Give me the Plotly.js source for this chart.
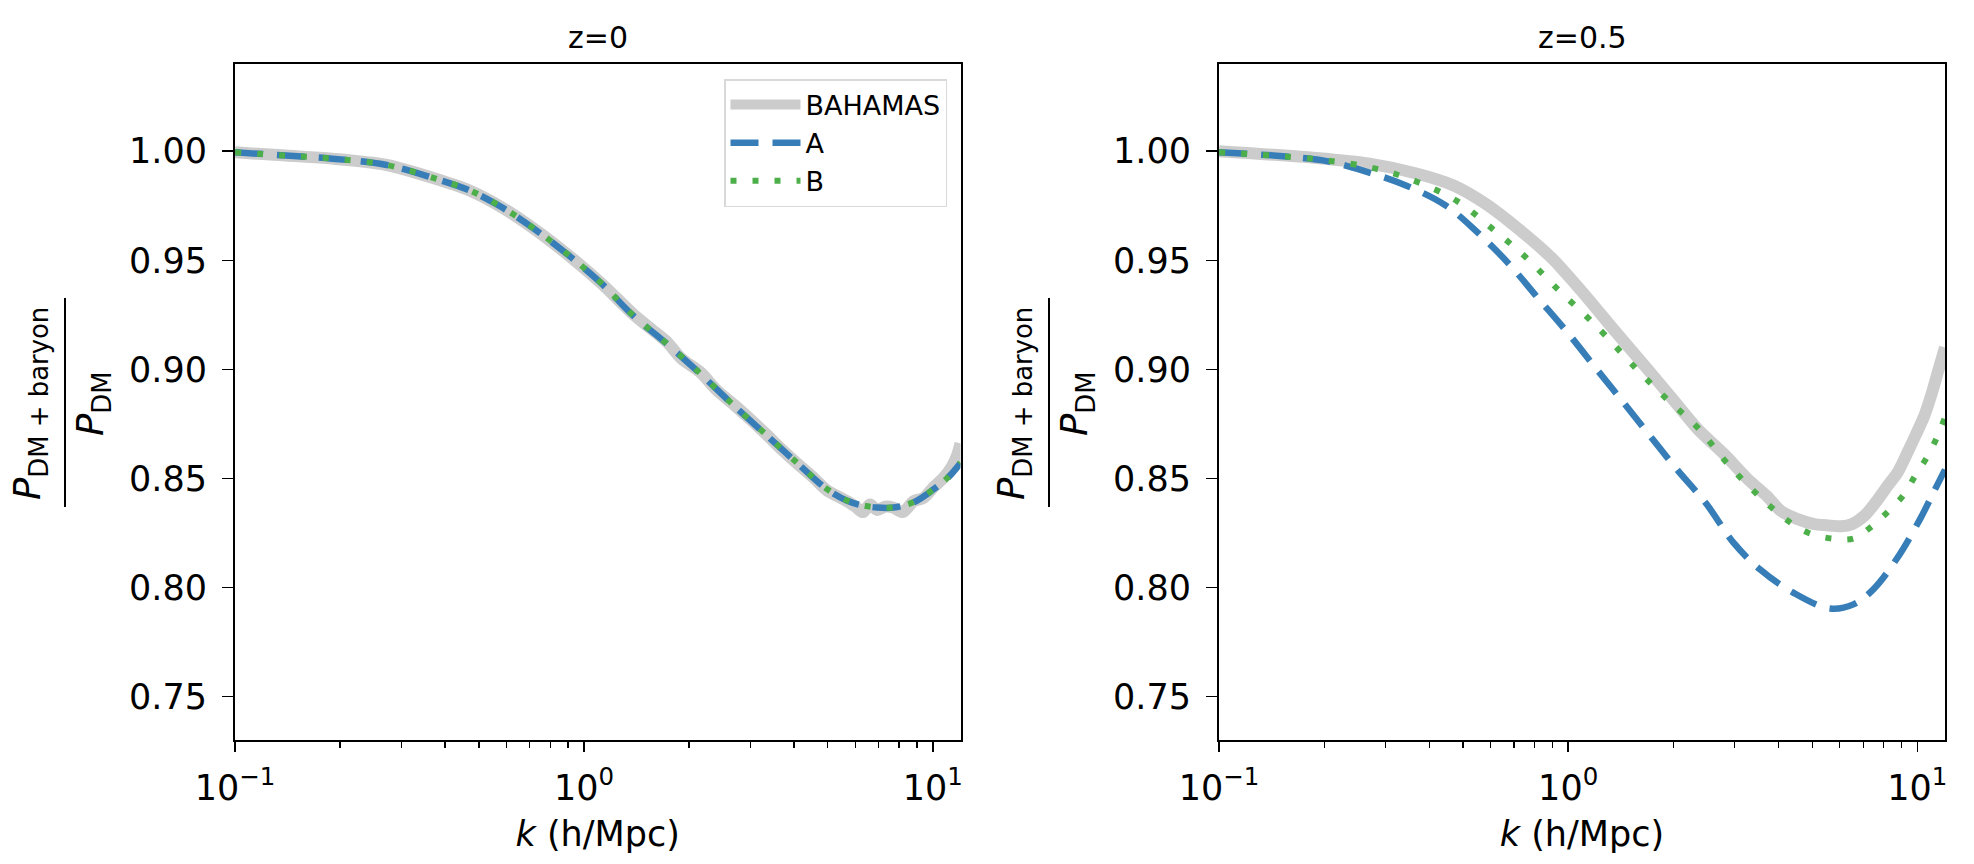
<!DOCTYPE html>
<html>
<head>
<meta charset="utf-8">
<script src="https://cdn.plot.ly/plotly-3.0.1.min.js"></script>
<style>
  html, body { margin: 0; padding: 0; background: #ffffff; }
  #chart { width: 1974px; height: 864px; }
</style>
</head>
<body>
<div id="chart"></div>
<script>
// ---------- data ----------
const panelTitles = ["z=0", "z=0.5"];
const seriesNames = ["BAHAMAS", "A", "B"];

// z = 0 panel
const kBahamasZ0 = [0.1, 0.14, 0.19, 0.27, 0.37, 0.47, 0.58, 0.72, 0.9, 1.12, 1.38, 1.6, 1.73, 1.9, 2.16, 2.4, 2.69, 3.0, 3.35, 3.7, 4.17, 4.5, 4.97, 5.3, 5.68, 6.0, 6.3, 6.6, 6.92, 7.3, 7.72, 8.2, 8.81, 9.4, 10.06, 10.7, 11.3, 11.7, 12.0];
const bahamasZ0 = [0.9995, 0.998, 0.9966, 0.9938, 0.9877, 0.982, 0.9744, 0.9644, 0.9525, 0.9395, 0.9255, 0.917, 0.9125, 0.905, 0.8985, 0.8905, 0.8838, 0.877, 0.8698, 0.863, 0.8555, 0.851, 0.8445, 0.842, 0.8395, 0.837, 0.8345, 0.838, 0.8355, 0.837, 0.8365, 0.8345, 0.8395, 0.841, 0.846, 0.850, 0.855, 0.860, 0.866];
const kModelZ0 = [0.1, 0.14, 0.19, 0.27, 0.37, 0.47, 0.58, 0.72, 0.9, 1.12, 1.38, 1.73, 2.16, 2.69, 3.35, 4.17, 4.97, 5.68, 6.3, 6.92, 7.72, 8.81, 10.06, 11.0, 12.0];
const modelAZ0 = [0.9995, 0.998, 0.9966, 0.9938, 0.9877, 0.982, 0.9744, 0.9644, 0.9525, 0.9395, 0.9248, 0.9116, 0.8978, 0.8833, 0.8695, 0.8557, 0.845, 0.8397, 0.8375, 0.8366, 0.8366, 0.839, 0.845, 0.850, 0.857];
const modelBZ0 = [0.9995, 0.998, 0.9966, 0.9938, 0.9878, 0.9821, 0.9745, 0.9645, 0.9526, 0.9396, 0.9249, 0.9117, 0.8979, 0.8834, 0.8696, 0.8558, 0.8451, 0.8398, 0.8376, 0.8367, 0.8367, 0.8391, 0.8451, 0.8502, 0.8572];

// z = 0.5 panel
const kBahamasZ05 = [0.1, 0.19, 0.27, 0.37, 0.47, 0.58, 0.72, 0.9, 1.12, 1.37, 1.69, 2.0, 2.35, 2.8, 3.27, 3.7, 4.07, 4.5, 5.07, 5.5, 6.04, 6.5, 7.05, 7.6, 8.22, 8.8, 9.38, 9.9, 10.47, 11.0, 11.44, 12.0];
const bahamasZ05 = [1.000, 0.9969, 0.9943, 0.9897, 0.9843, 0.9759, 0.9644, 0.9508, 0.9338, 0.917, 0.900, 0.886, 0.8726, 0.861, 0.8496, 0.842, 0.835, 0.8315, 0.829, 0.8285, 0.828, 0.829, 0.8328, 0.839, 0.8466, 0.853, 0.862, 0.870, 0.8787, 0.889, 0.8986, 0.910];
const kModelBZ05 = [0.1, 0.193, 0.281, 0.370, 0.482, 0.607, 0.756, 0.931, 1.147, 1.275, 1.553, 1.915, 2.36, 2.84, 3.47, 4.32, 4.93, 5.69, 6.56, 7.41, 8.27, 9.13, 9.86, 10.65, 11.38, 12.0];
const modelBZ05 = [0.9995, 0.9962, 0.992, 0.9859, 0.977, 0.9644, 0.9514, 0.9369, 0.9231, 0.9157, 0.9009, 0.8864, 0.8729, 0.8573, 0.8428, 0.8298, 0.8247, 0.8224, 0.8224, 0.828, 0.835, 0.8423, 0.8512, 0.8596, 0.8688, 0.878];
const kModelAZ05 = [0.1, 0.198, 0.257, 0.343, 0.446, 0.549, 0.677, 0.816, 0.994, 1.207, 1.439, 1.715, 2.045, 2.49, 2.97, 3.54, 4.41, 5.62, 6.56, 7.48, 8.73, 10.18, 11.12, 12.0];
const modelAZ05 = [0.9995, 0.9958, 0.9912, 0.9843, 0.9751, 0.9629, 0.9483, 0.933, 0.917, 0.900, 0.8848, 0.8695, 0.8542, 0.8382, 0.8206, 0.8083, 0.7976, 0.7903, 0.7922, 0.7991, 0.8131, 0.8313, 0.8435, 0.854];

// axis ticks
const xTickVals = [0.1, 1, 10];
const xTickText = ["10<sup>\u22121</sup>", "10<sup>0</sup>", "10<sup>1</sup>"];
const xMinorVals = [0.2, 0.3, 0.4, 0.5, 0.6, 0.7, 0.8, 0.9, 2, 3, 4, 5, 6, 7, 8, 9];
const yTickVals = [0.75, 0.80, 0.85, 0.90, 0.95, 1.00];
const yTickText = ["0.75", "0.80", "0.85", "0.90", "0.95", "1.00"];
const yRange = [0.73, 1.04];
const xMax = 12;

// ---------- styles ----------
const W = 1974, H = 864;
const FONT = "DejaVu Sans, Liberation Sans, sans-serif";
const GRAY = "#cccccc", BLUE = "#377eb8", GREEN = "#4daf4a";
const px = v => v / W, py = v => 1 - v / H;

function grayTrace(x, y, xa, ya, show) {
  return { x, y, xaxis: xa, yaxis: ya, type: "scatter", mode: "lines", name: seriesNames[0],
    showlegend: show, line: { color: GRAY, width: 12, shape: "spline", smoothing: 0.8 } };
}
function aTrace(x, y, xa, ya, show) {
  return { x, y, xaxis: xa, yaxis: ya, type: "scatter", mode: "lines", name: seriesNames[1],
    showlegend: show, line: { color: BLUE, width: 6.5, dash: "28px,14px", shape: "spline" } };
}
function bTrace(x, y, xa, ya, show) {
  return { x, y, xaxis: xa, yaxis: ya, type: "scatter", mode: "lines", name: seriesNames[2],
    showlegend: show, line: { color: GREEN, width: 6, dash: "6px,16px", shape: "spline" } };
}

const data = [
  grayTrace(kBahamasZ0, bahamasZ0, "x", "y", true),
  aTrace(kModelZ0, modelAZ0, "x", "y", true),
  bTrace(kModelZ0, modelBZ0, "x", "y", true),
  grayTrace(kBahamasZ05, bahamasZ05, "x2", "y2", false),
  aTrace(kModelAZ05, modelAZ05, "x2", "y2", false),
  bTrace(kModelBZ05, modelBZ05, "x2", "y2", false)
];

function xAxis(domain, anchor) {
  return {
    domain, anchor, type: "log", range: [-1, Math.log10(xMax)],
    tickmode: "array", tickvals: xTickVals, ticktext: xTickText,
    ticks: "outside", ticklen: 10, tickwidth: 1.5, tickcolor: "#000",
    minor: { tickmode: "array", tickvals: xMinorVals, ticks: "outside", ticklen: 6, tickwidth: 1.2, tickcolor: "#000", showgrid: false },
    showline: true, linecolor: "#000", linewidth: 2, mirror: true,
    showgrid: false, zeroline: false, ticklabelstandoff: 6,
    tickfont: { family: FONT, size: 35, color: "#000" },
    title: { text: "<i>k</i> (h/Mpc)", font: { family: FONT, size: 35, color: "#000" }, standoff: 14 },
    automargin: false
  };
}
function yAxis(domain, anchor) {
  return {
    domain, anchor, range: yRange,
    tickmode: "array", tickvals: yTickVals, ticktext: yTickText,
    ticks: "outside", ticklen: 11, tickwidth: 1.5, tickcolor: "#000",
    showline: true, linecolor: "#000", linewidth: 2, mirror: true,
    showgrid: false, zeroline: false, ticklabelstandoff: 8,
    tickfont: { family: FONT, size: 35, color: "#000" },
    automargin: false
  };
}

const yDom = [py(740), py(64)];
const left = [235, 960.5], right = [1219, 1945];

const annotations = [];
const shapes = [];
[left, right].forEach((dom, i) => {
  const cx = (dom[0] + dom[1]) / 2;
  annotations.push({ xref: "paper", yref: "paper", x: px(cx), y: py(37), xanchor: "center", yanchor: "middle",
    text: panelTitles[i], showarrow: false, font: { family: FONT, size: 30, color: "#000" } });
  const off = dom[0] - left[0];
  // y-axis label: P_{DM + baryon} / P_{DM}
  annotations.push({ xref: "paper", yref: "paper", x: px(30 + off), y: py(404), xanchor: "center", yanchor: "middle",
    text: "<i>P</i><sub>DM + baryon</sub>", textangle: -90, showarrow: false,
    font: { family: FONT, size: 37, color: "#000" } });
  annotations.push({ xref: "paper", yref: "paper", x: px(93 + off), y: py(404), xanchor: "center", yanchor: "middle",
    text: "<i>P</i><sub>DM</sub>", textangle: -90, showarrow: false,
    font: { family: FONT, size: 37, color: "#000" } });
  shapes.push({ type: "line", xref: "paper", yref: "paper", x0: px(65 + off), x1: px(65 + off), y0: py(298), y1: py(507),
    line: { color: "#000", width: 2 } });
});

const layout = {
  width: W, height: H,
  margin: { l: 0, r: 0, t: 0, b: 0 },
  paper_bgcolor: "#fff", plot_bgcolor: "#fff",
  font: { family: FONT, color: "#000" },
  xaxis: xAxis([px(left[0]), px(left[1])], "y"),
  yaxis: yAxis(yDom, "x"),
  xaxis2: xAxis([px(right[0]), px(right[1])], "y2"),
  yaxis2: yAxis(yDom, "x2"),
  showlegend: true,
  legend: {
    x: px(947), y: py(79), xanchor: "right", yanchor: "top",
    bgcolor: "rgba(255,255,255,0.85)", bordercolor: "#d9d9d9", borderwidth: 1.5,
    font: { family: FONT, size: 27, color: "#000" },
    itemwidth: 70, tracegroupgap: 0
  },
  annotations, shapes
};

Plotly.newPlot("chart", data, layout, { displayModeBar: false, staticPlot: true });
</script>
</body>
</html>
